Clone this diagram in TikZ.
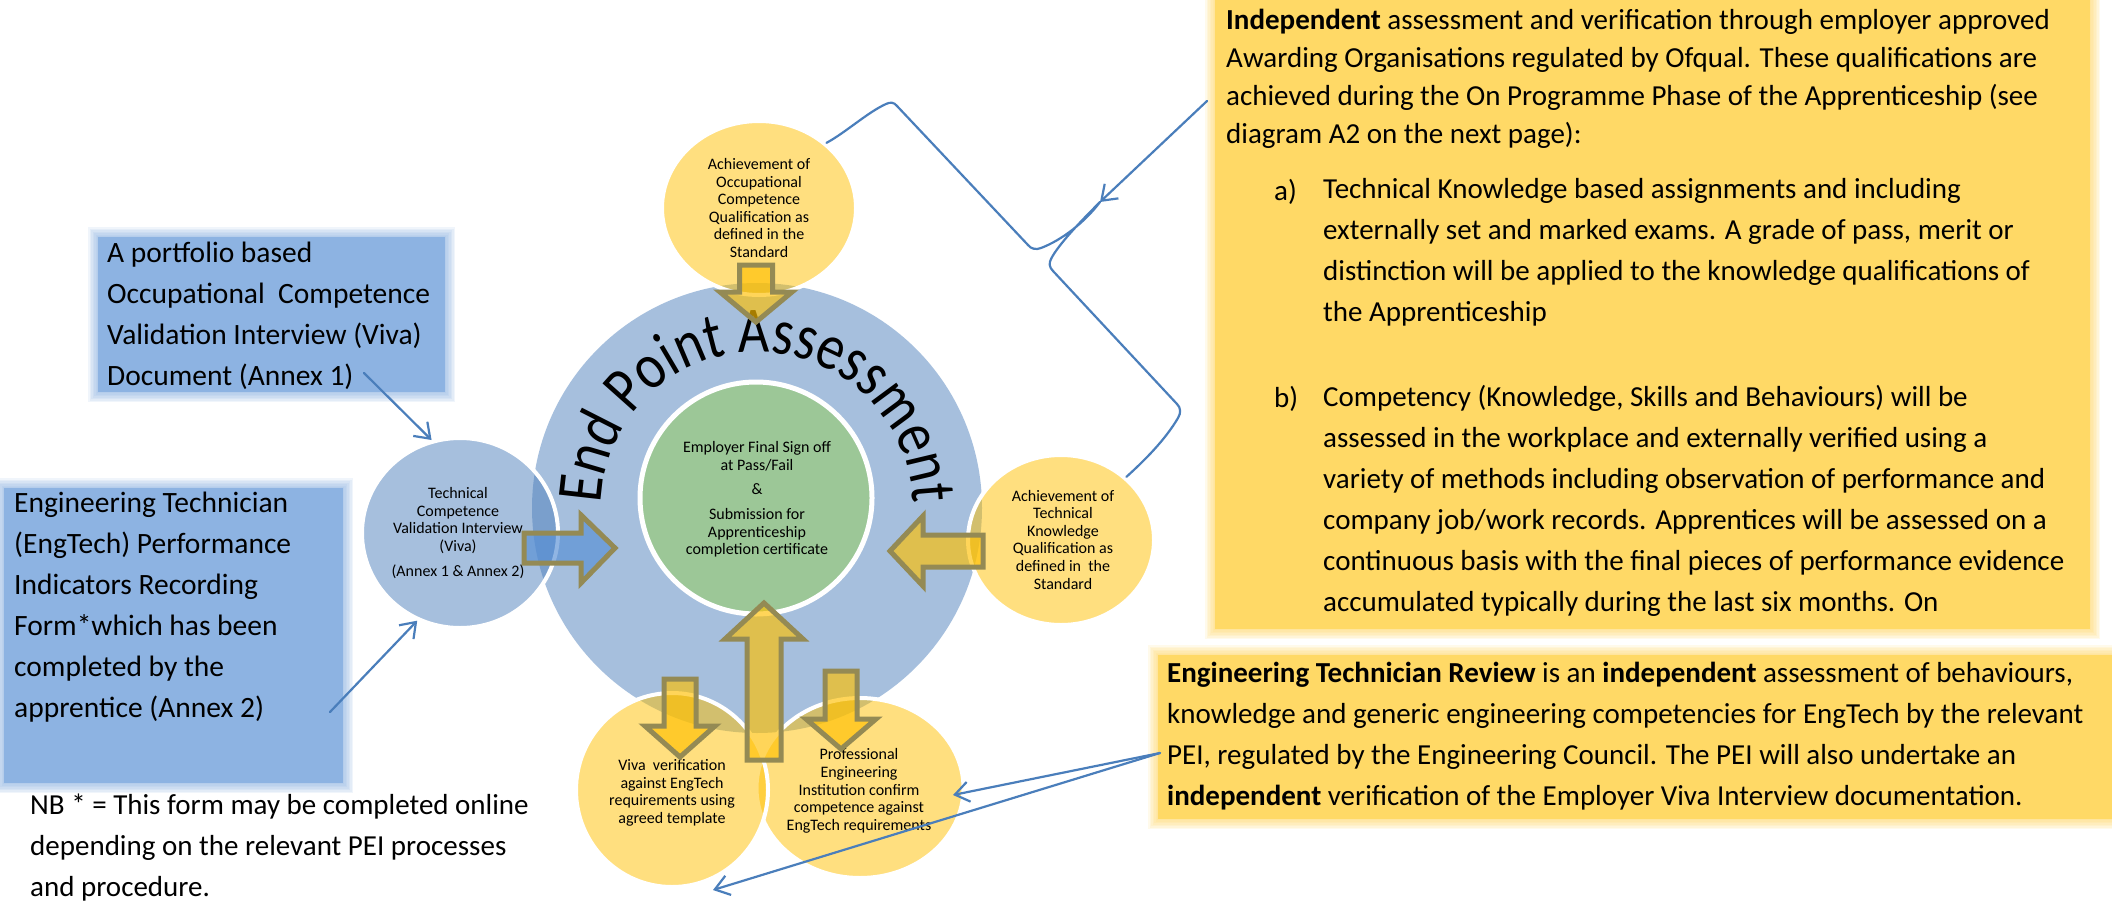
\documentclass[tikz,border=0pt]{standalone}
\usepackage{fontspec}
\setmainfont{Carlito}
\newfontfamily\epafamily[FakeStretch=0.83]{Carlito}
\usetikzlibrary{shapes.geometric,arrows.meta,decorations.text}

\definecolor{epablue}{HTML}{4F81BD}
\definecolor{epagold}{HTML}{FFC000}
\definecolor{arrowedge}{HTML}{948A54}
\definecolor{arrowblue}{HTML}{558ED5}
\definecolor{boxblue}{HTML}{8DB3E2}
\definecolor{boxgold}{HTML}{FFD966}
\definecolor{linkblue}{HTML}{4A7EBB}
\definecolor{epagreen}{RGB}{156,199,151}

\newcommand\epafont{\epafamily\fontsize{65}{70}\selectfont}
% filled box with a soft, feathered edge: x1, y1, x2, y2, colour
\newcommand\softbox[5]{%
  \foreach \g in {10,8.5,7,5.5,4,2.5,1}{%
    \fill[#5,opacity=0.13] ({#1-\g},{#2+\g}) rectangle ({#3+\g},{#4-\g});}%
  \fill[#5] (#1,#2) rectangle (#3,#4);}

\tikzset{
  link/.style={draw=linkblue,line width=2.2pt,line cap=round,line join=round},
  barb/.style={-{Straight Barb[length=14pt,width=20pt]}},
  goldcirc/.style={ellipse,inner sep=0pt,fill=epagold,fill opacity=0.5,draw=white,line width=4pt},
  bluecirc/.style={ellipse,inner sep=0pt,fill=epablue,fill opacity=0.5,draw=white,line width=4pt},
  circtext/.style={align=center,font=\fontsize{16}{17.6}\selectfont,inner sep=0pt},
  bodytext/.style={align=left,font=\fontsize{29}{41}\selectfont,inner sep=0pt,anchor=west},
  goldarrow/.style={fill=epagold,fill opacity=0.65,draw=arrowedge,line width=5pt,line join=miter},
  bluearrow/.style={goldarrow,fill=arrowblue},
}

\begin{document}
\begin{tikzpicture}[x=1pt,y=1pt]
\useasboundingbox (0,0) rectangle (2112,-902);
\fill[white] (0,0) rectangle (2112,-902);

% ---------- side boxes ----------
\softbox{98}{-237}{445}{-392}{boxblue}
\softbox{4}{-488}{343}{-783}{boxblue}
\softbox{1215}{6}{2090}{-629}{boxgold}
\softbox{1158}{-655}{2130}{-819}{boxgold}

\node[bodytext,font=\fontsize{29.5}{41}\selectfont] (portfolio) at (107,-315.5)
  {A portfolio based\\Occupational\ \ Competence\\Validation Interview (Viva)\\Document (Annex 1)};
\node[bodytext,font=\fontsize{29.5}{41}\selectfont] (recform) at (14,-607.5)
  {Engineering Technician\\(EngTech) Performance\\Indicators Recording\\Form*which has been\\completed by the\\apprentice (Annex 2)};
\node[bodytext] (nbnote) at (30,-848)
  {NB * = This form may be completed online\\depending on the relevant PEI processes\\and procedure.};

\node[bodytext,font=\fontsize{29}{37.8}\selectfont] (qualtext) at (1226,-79)
  {\textbf{Independent} assessment and verification through employer approved\\
   Awarding Organisations regulated by Ofqual. These qualifications are\\
   achieved during the On Programme Phase of the Apprenticeship (see\\
   diagram A2 on the next page):};
\node[bodytext] (itema) at (1274,-192) {a)};
\node[bodytext] (itematext) at (1323,-252)
  {Technical Knowledge based assignments and including\\
   externally set and marked exams. A grade of pass, merit or\\
   distinction will be applied to the knowledge qualifications of\\
   the Apprenticeship};
\node[bodytext] (itemb) at (1274,-399) {b)};
\node[bodytext] (itembtext) at (1323,-500.5)
  {Competency (Knowledge, Skills and Behaviours) will be\\
   assessed in the workplace and externally verified using a\\
   variety of methods including observation of performance and\\
   company job/work records. Apprentices will be assessed on a\\
   continuous basis with the final pieces of performance evidence\\
   accumulated typically during the last six months. On};

\node[bodytext] (reviewtext) at (1167,-736.5)
  {\textbf{Engineering Technician Review} is an \textbf{independent} assessment of behaviours,\\
   knowledge and generic engineering competencies for EngTech by the relevant\\
   PEI, regulated by the Engineering Council. The PEI will also undertake an\\
   \textbf{independent} verification of the Employer Viva Interview documentation.};

% ---------- central cycle ----------
\node[circle,inner sep=0pt,minimum size=450pt,fill=epablue,fill opacity=0.5] (ring) at (757,-508) {};
\node[circle,inner sep=0pt,minimum size=232pt,fill=epagreen,draw=white,line width=5pt] (core) at (756,-498) {};

\path[decorate,decoration={text along path,text align=center,
      text={|\epafont|End Point Assessment}}]
  (601,-508) arc[start angle=180,end angle=0,radius=156pt];

\node[goldcirc,minimum width=194pt,minimum height=174pt] (occq) at (759,-208) {};
\node[goldcirc,minimum width=186pt,minimum height=170pt] (tkq) at (1061,-540) {};
\node[goldcirc,minimum width=207pt,minimum height=180pt] (pei) at (860,-788) {};
\node[goldcirc,minimum width=192pt,minimum height=194pt] (viva) at (672,-790) {};
\node[bluecirc,minimum width=196pt,minimum height=190pt] (tcv) at (460,-533) {};

\node[circtext] (coretext) at (757,-499.5)
  {Employer Final Sign off\\at Pass/Fail\\[6.4pt]\&\\[7.4pt]Submission for\\Apprenticeship\\completion certificate};
\node[circtext] (occqtext) at (759,-208)
  {Achievement of\\Occupational\\Competence\\Qualification as\\defined in the\\Standard};
\node[circtext] (tkqtext) at (1063,-539.5)
  {Achievement of\\Technical\\Knowledge\\Qualification as\\defined in\ \ the\\Standard};
\node[circtext] (tcvtext) at (458,-533)
  {Technical\\Competence\\Validation Interview\\(Viva)\\[7.4pt](Annex 1 \& Annex 2)};
\node[circtext] (vivatext) at (672,-793)
  {Viva\ \ verification\\against EngTech\\requirements using\\agreed template};
\node[circtext] (peitext) at (859,-791)
  {Professional\\Engineering\\Institution confirm\\competence against\\EngTech requirements};

% ---------- block arrows ----------
\draw[goldarrow] (739.5,-265) -- (772.5,-265) -- (772.5,-292) -- (792,-292) -- (756,-322)
  -- (720,-292) -- (739.5,-292) -- cycle;
\draw[goldarrow] (664,-679) -- (696,-679) -- (696,-726) -- (715,-726) -- (680,-757)
  -- (645,-726) -- (664,-726) -- cycle;
\draw[goldarrow] (825,-671) -- (857,-671) -- (857,-719) -- (876,-719) -- (841,-749)
  -- (806,-719) -- (825,-719) -- cycle;
\draw[goldarrow] (747,-760) -- (781,-760) -- (781,-639) -- (803,-639) -- (764,-603)
  -- (725,-639) -- (747,-639) -- cycle;
\draw[bluearrow] (524,-533) -- (581,-533) -- (581,-515) -- (615,-548) -- (581,-583)
  -- (581,-563) -- (524,-563) -- cycle;
\draw[goldarrow] (983,-535) -- (923,-535) -- (923,-516) -- (890,-551) -- (923,-586)
  -- (923,-567) -- (983,-567) -- cycle;

% ---------- connectors ----------
\coordinate (portfolioend) at (364,-373);
\coordinate (recformend) at (330,-712);
\coordinate (qualstart) at (1207,-101);
\coordinate (bracetip) at (1100,-202);
\coordinate (reviewstart) at (1160,-753);
\coordinate (peitip) at (953,-795);
\coordinate (vivatip) at (713,-890);

\draw[link,barb] (portfolioend) -- (tcv.107);
\draw[link,barb] (recformend) -- (tcv.244);

\draw[link] (occq.44) .. controls (845,-133) and (868,-112) .. (886,-104)
  .. controls (890,-102) and (894,-102) .. (897,-106)
  -- (1028,-245)
  .. controls (1031,-249) and (1036,-250) .. (1041,-248)
  .. controls (1062,-240) and (1085,-222) .. (bracetip)
  .. controls (1080,-222) and (1058,-245) .. (1051,-259)
  .. controls (1049,-263) and (1049,-267) .. (1053,-271)
  -- (1177,-404)
  .. controls (1181,-408) and (1181,-413) .. (1178,-418)
  .. controls (1165,-440) and (1145,-460) .. (tkq.44);
\draw[link,barb] (qualstart) -- (bracetip);

\draw[link,barb] (reviewstart) -- (peitip);
\draw[link,barb] (reviewstart) -- (vivatip);
\end{tikzpicture}
\end{document}
